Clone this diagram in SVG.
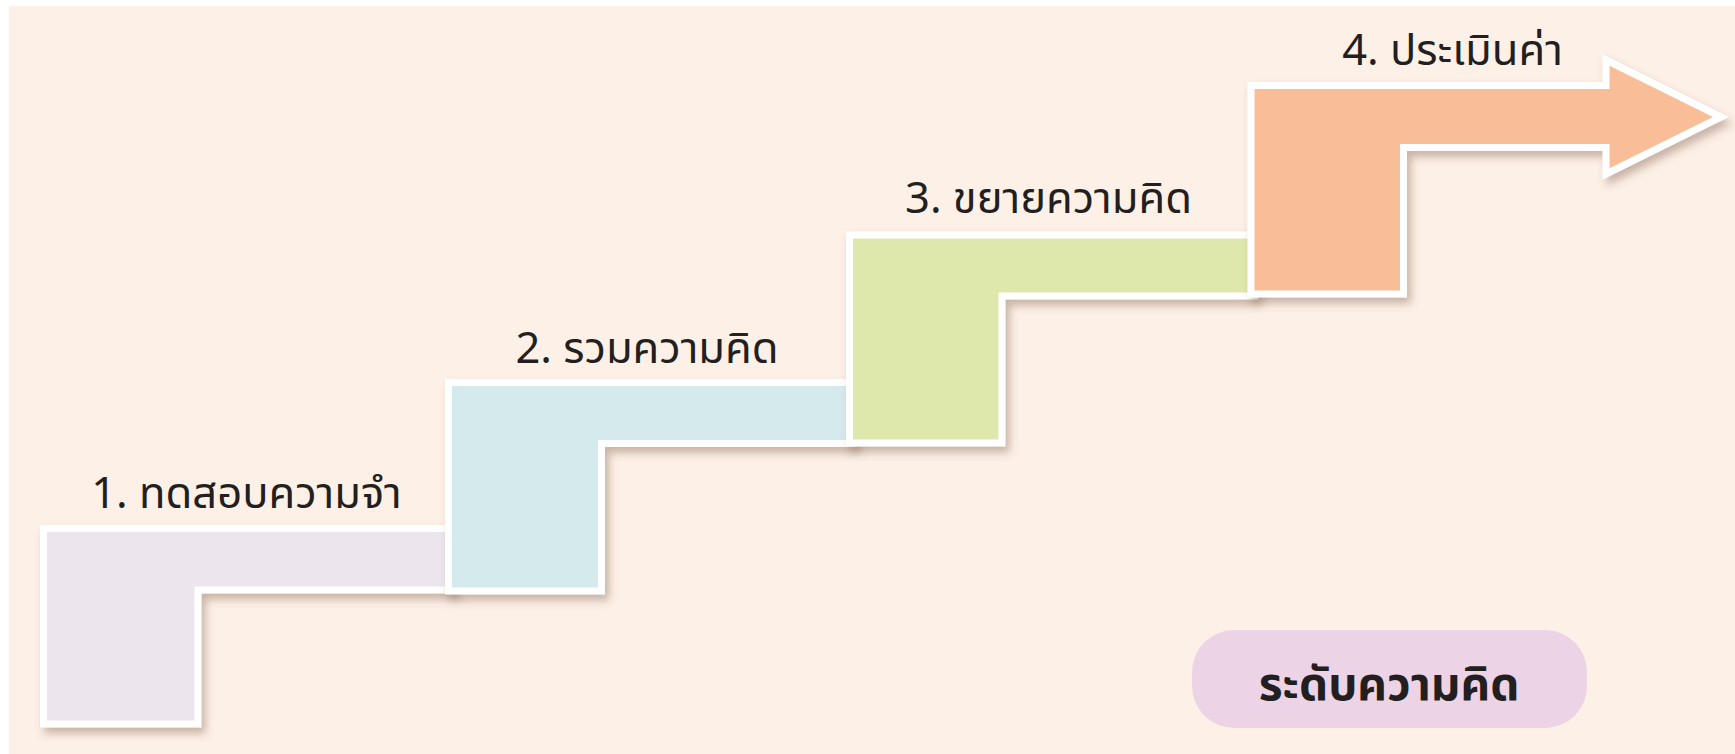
<svg xmlns="http://www.w3.org/2000/svg" width="1735" height="754" viewBox="0 0 1735 754">
<defs>
<filter id="sh" x="-10%" y="-10%" width="125%" height="130%">
<feDropShadow dx="4" dy="6" stdDeviation="4" flood-color="#7a5a45" flood-opacity="0.4"/>
</filter>
<style>
.step{stroke:#ffffff;stroke-width:7;stroke-linejoin:miter;filter:url(#sh)}
.lbl{font-family:"Noto Sans Thai","Noto Sans","Liberation Sans",sans-serif;font-size:43.5px;fill:#231f20;text-anchor:middle}
.key{font-family:"Noto Sans Thai","Noto Sans","Liberation Sans",sans-serif;font-size:46px;font-weight:bold;fill:#231f20;text-anchor:middle}
</style>
</defs>
<rect x="0" y="0" width="1735" height="754" fill="#ffffff"/>
<rect x="9" y="6" width="1726" height="748" fill="#fdf0e7"/>
<g id="connectors"></g>
<g id="step1">
<path class="step" fill="#ece5ee" d="M43.5,528.5 H452 V590 H198 V724 H43.5 Z"/>
<text class="lbl" x="246.5" y="508">1. ทดสอบความจำ</text>
</g>
<g id="step2">
<path class="step" fill="#d5eaec" d="M448.5,382.5 H853 V443.5 H601.5 V591 H448.5 Z"/>
<text class="lbl" x="647" y="363">2. รวมความคิด</text>
</g>
<g id="step3">
<path class="step" fill="#dfe8ac" d="M849.5,235 H1255 V296 H1002 V443 H849.5 Z"/>
<text class="lbl" x="1048.5" y="213">3. ขยายความคิด</text>
</g>
<g id="step4">
<path class="step" fill="#f9be98" d="M1251,85.5 H1606 V60 L1721,117 L1606,174 V147.5 H1403.5 V294 H1251 Z"/>
<text class="lbl" x="1452.5" y="65">4. ประเมินค่า</text>
</g>
<g id="legend">
<rect x="1192" y="630" width="395" height="98" rx="42" fill="#ecd4e6"/>
<text class="key" x="1389" y="700">ระดับความคิด</text>
</g>
</svg>
